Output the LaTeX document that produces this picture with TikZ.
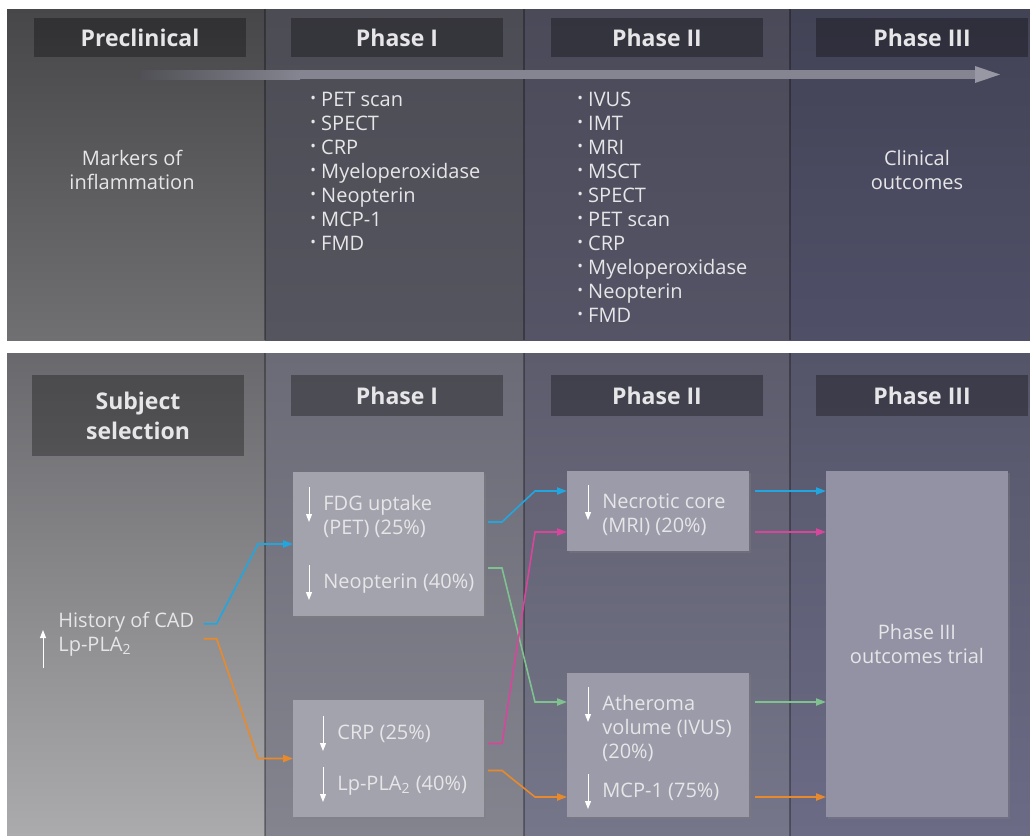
\documentclass[tikz,border=0pt]{standalone}
\usepackage{fontspec}
\setmainfont{Open Sans}
\usepackage{tikz}
\usetikzlibrary{arrows.meta,positioning,calc,shadows}
\definecolor{txtc}{RGB}{230,230,232}
\definecolor{preT}{RGB}{71,71,74}
\definecolor{preTb}{RGB}{112,112,115}
\definecolor{pIT}{RGB}{76,76,85}
\definecolor{pITb}{RGB}{85,85,95}
\definecolor{pIIT}{RGB}{74,74,89}
\definecolor{pIITb}{RGB}{84,84,102}
\definecolor{pIIIT}{RGB}{67,67,86}
\definecolor{pIIITb}{RGB}{79,79,104}
\definecolor{preB}{RGB}{105,105,109}
\definecolor{preBb}{RGB}{171,171,173}
\definecolor{pIB}{RGB}{107,107,119}
\definecolor{pIBb}{RGB}{132,132,143}
\definecolor{pIIB}{RGB}{92,92,109}
\definecolor{pIIBb}{RGB}{118,118,138}
\definecolor{pIIIB}{RGB}{85,85,105}
\definecolor{pIIIBb}{RGB}{107,107,134}
\definecolor{boxI}{RGB}{163,163,174}
\definecolor{boxII}{RGB}{155,155,169}
\definecolor{boxIII}{RGB}{146,146,164}
\definecolor{bandA}{RGB}{80,80,86}
\definecolor{bandB}{RGB}{133,133,145}
\definecolor{bandC}{RGB}{152,152,165}
\definecolor{cblue}{RGB}{34,166,223}
\definecolor{cpink}{RGB}{216,70,155}
\definecolor{cgreen}{RGB}{127,194,143}
\definecolor{corange}{RGB}{232,138,43}
\newcommand{\bul}{\raisebox{0.25ex}{\scalebox{0.75}{•}}\ }
\newcommand{\downmark}[1]{\draw[dn] ($(#1.base west)+(-14,-23)$) -- ++(0,35);}

\begin{document}
\begin{tikzpicture}[x=0.5pt,y=-0.5pt,
    txt/.style={text=txtc,font=\fontsize{10}{12}\selectfont,inner sep=0pt},
    hdr/.style={fill=black,fill opacity=0.3,text opacity=1,text=txtc,
        font=\fontsize{11.5}{14}\selectfont\bfseries,minimum width=106pt,inner sep=0pt},
    box/.style={fill=#1,inner sep=0pt,outer sep=0pt,anchor=north west,
        drop shadow={shadow xshift=1pt,shadow yshift=-1.2pt,opacity=0.35}},
    conn/.style={line width=0.8pt,-{Triangle[length=5pt,width=3.6pt]}},
    dn/.style={draw=white,line width=0.5pt,-{Triangle[length=4pt,width=3pt]}},
    divider/.style={draw=black,opacity=0.3,line width=1.2pt}]

    \useasboundingbox (0,0) rectangle (1030,836);
    \fill[white] (0,0) rectangle (1030,836);

    % Top panel columns
    \shade[top color=preT,bottom color=preTb] (7,9) rectangle (265,340);
    \shade[top color=pIT,bottom color=pITb] (265,9) rectangle (524,340);
    \shade[top color=pIIT,bottom color=pIITb] (524,9) rectangle (790,340);
    \shade[top color=pIIIT,bottom color=pIIITb] (790,9) rectangle (1030,340);

    % Bottom panel columns
    \shade[top color=preB,bottom color=preBb] (7,353) rectangle (265,836);
    \shade[top color=pIB,bottom color=pIBb] (265,353) rectangle (524,836);
    \shade[top color=pIIB,bottom color=pIIBb] (524,353) rectangle (790,836);
    \shade[top color=pIIIB,bottom color=pIIIBb] (790,353) rectangle (1030,836);

    \foreach \x in {265,524,790} {
        \draw[divider] (\x,9) -- (\x,340);
        \draw[divider] (\x,353) -- (\x,836);
    }

    % Timeline arrow
    \shade[left color=bandA,right color=bandB] (140,70) rectangle (300,79);
    \fill[bandB] (300,70) rectangle (976,79);
    \fill[bandC] (975,66) -- (1000,74.5) -- (975,83) -- cycle;

    % Top headers
    \node[hdr,minimum height=19.5pt] (hPre) at (140,37.5) {Preclinical};
    \node[hdr,minimum height=19.5pt] (hI) at (397,37.5) {Phase I};
    \node[hdr,minimum height=19.5pt] (hII) at (657,37.5) {Phase II};
    \node[hdr,minimum height=19.5pt] (hIII) at (922,37.5) {Phase III};

    \node[txt,align=center] (markers) at (132,170) {Markers of\\inflammation};
    \node[txt,align=center] (clinical) at (917,170) {Clinical\\outcomes};

    \foreach \t [count=\i from 0] in {PET scan,SPECT,CRP,Myeloperoxidase,Neopterin,MCP-1,FMD}
        \node[txt,anchor=base west] (lI-\i) at (310,{106+24*\i}) {\bul\t};
    \foreach \t [count=\i from 0] in {IVUS,IMT,MRI,MSCT,SPECT,PET scan,CRP,Myeloperoxidase,Neopterin,FMD}
        \node[txt,anchor=base west] (lII-\i) at (577,{106+24*\i}) {\bul\t};

    % Bottom headers
    \node[hdr,minimum height=40.5pt,align=center,font=\fontsize{11.5}{15}\selectfont\bfseries] (hSubj) at (138,415.5) {Subject\\selection};
    \node[hdr,minimum height=20.5pt] (hIb) at (397,395.5) {Phase I};
    \node[hdr,minimum height=20.5pt] (hIIb) at (657,395.5) {Phase II};
    \node[hdr,minimum height=20.5pt] (hIIIb) at (922,395.5) {Phase III};

    % Boxes
    \node[box=boxI,minimum width=95.5pt,minimum height=72pt] (boxIa) at (293,472) {};
    \node[box=boxI,minimum width=95.5pt,minimum height=58.5pt] (boxIb) at (293,700) {};
    \node[box=boxII,minimum width=91pt,minimum height=40pt] (boxIIa) at (567,471) {};
    \node[box=boxII,minimum width=91pt,minimum height=72pt] (boxIIb) at (567,673) {};
    \node[box=boxIII,minimum width=91pt,minimum height=173pt] (boxIII) at (826,471) {};

    % Box texts
    \node[txt,anchor=base west] (hist) at (58,627) {History of CAD};
    \node[txt,anchor=base west] (lp) at (58,651) {Lp-PLA\textsubscript{2}};
    \draw[dn] ($(lp.base west)+(-15,17)$) -- ++(0,-38);

    \node[txt,anchor=base west] (fdg) at (323,510) {FDG uptake};
    \node[txt,anchor=base west] (fdg2) at ($(fdg.base west)+(0,24)$) {(PET) (25\%)};
    \node[txt,anchor=base west] (neo) at (323,588) {Neopterin (40\%)};
    \node[txt,anchor=base west] (crp) at (337,739) {CRP (25\%)};
    \node[txt,anchor=base west] (lpla) at (337,790) {Lp-PLA\textsubscript{2} (40\%)};
    \node[txt,anchor=base west] (necro) at (602,508) {Necrotic core};
    \node[txt,anchor=base west] (necro2) at ($(necro.base west)+(0,24)$) {(MRI) (20\%)};
    \node[txt,anchor=base west] (ather) at (602,710) {Atheroma};
    \node[txt,anchor=base west] (ather2) at ($(ather.base west)+(0,24)$) {volume (IVUS)};
    \node[txt,anchor=base west] (ather3) at ($(ather.base west)+(0,48)$) {(20\%)};
    \node[txt,anchor=base west] (mcp) at (602,797) {MCP-1 (75\%)};
    \node[txt,align=center] (trial) at (boxIII) {Phase III\\outcomes trial};

    \downmark{fdg}
    \downmark{neo}
    \downmark{crp}
    \downmark{lpla}
    \downmark{necro}
    \downmark{ather}
    \downmark{mcp}

    % Subject selection to Phase I
    \draw[conn,cblue] ($(hist.east)+(9,2)$) -- ++(13,0) -- ($(boxIa.west)+(-35,0)$) -- (boxIa.west);
    \draw[conn,corange] ($(hist.east)+(9,17)$) -- ++(13,0) -- ($(boxIb.west)+(-35,0)$) -- (boxIb.west);

    % Phase I to Phase II
    \draw[conn,cblue] ($(boxIa.east)+(4,-22)$) -- ++(14,0) -- ($(boxIIa.west)+(-32,-20)$) -- ($(boxIIa.west)+(0,-20)$);
    \draw[conn,cgreen] ($(boxIa.east)+(4,24)$) -- ++(14,0) -- ($(boxIIb.west)+(-32,-43)$) -- ($(boxIIb.west)+(0,-43)$);
    \draw[conn,cpink] ($(boxIb.east)+(4,-15)$) -- ++(14,0) -- ($(boxIIa.west)+(-32,21)$) -- ($(boxIIa.west)+(0,21)$);
    \draw[conn,corange] ($(boxIb.east)+(4,12)$) -- ++(14,0) -- ($(boxIIb.west)+(-32,52)$) -- ($(boxIIb.west)+(0,52)$);

    % Phase II to Phase III
    \draw[conn,cblue] ($(boxIIa.east)+(6,-20)$) -- ($(boxIIa.east -| boxIII.west)+(0,-20)$);
    \draw[conn,cpink] ($(boxIIa.east)+(6,21)$) -- ($(boxIIa.east -| boxIII.west)+(0,21)$);
    \draw[conn,cgreen] ($(boxIIb.east)+(6,-43)$) -- ($(boxIIb.east -| boxIII.west)+(0,-43)$);
    \draw[conn,corange] ($(boxIIb.east)+(6,52)$) -- ($(boxIIb.east -| boxIII.west)+(0,52)$);

\end{tikzpicture}
\end{document}
